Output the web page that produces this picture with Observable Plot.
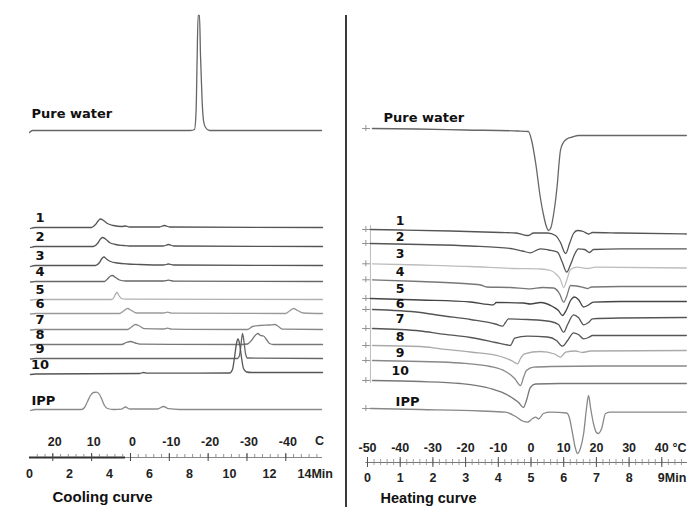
<!DOCTYPE html>
<html><head><meta charset="utf-8">
<script src="https://cdn.jsdelivr.net/npm/d3@7"></script>
<script src="https://cdn.jsdelivr.net/npm/@observablehq/plot@0.6"></script>
<style>
html,body{margin:0;padding:0;background:#fff;}
#wrap{position:relative;width:687px;height:507px;overflow:hidden;background:#fff;}
#left{position:absolute;left:0;top:0;}
#right{position:absolute;left:345px;top:0;}
#divider{position:absolute;left:345px;top:15px;width:2px;height:492px;background:#3a3a3a;}
</style></head><body><div id="wrap"><div id="left"></div><div id="right"></div><div id="divider"></div></div>
<script>
// ---------- DATA (time in min, signal in arbitrary units) ----------
const coolNames = ["Pure water","1","2","3","4","5","6","7","8","9","10","IPP"];
const coolWater = [[0,325],[0.15,327],[8.05,327],[8.25,328],[8.33,347],[8.38,397],[8.43,442],[8.5,442],[8.55,402],[8.63,357],[8.7,337],[8.8,330],[9.0,327],[14.6,327]];
const cool1 = [[0.05,229],[0.3,230],[3.1,230],[3.3,233],[3.45,237],[3.55,238.5],[3.7,237],[3.9,234],[4.2,232],[4.6,231],[4.8,231.5],[5.0,230.5],[6.5,230.5],[6.75,232],[7.0,230.5],[14.65,230]];
const cool2 = [[0.05,210],[0.3,211],[3.2,211],[3.4,214],[3.55,218.5],[3.65,220],[3.8,218.5],[4.0,215],[4.3,213],[4.7,212],[5.0,211.5],[6.7,211.5],[6.95,213],[7.2,211.5],[14.65,211]];
const cool3 = [[0.05,191],[0.3,192],[3.3,192],[3.5,195],[3.62,199],[3.72,200.5],[3.85,198.5],[4.05,196],[4.4,194.5],[4.9,193.5],[5.5,193],[6.7,192.5],[6.95,193.5],[7.2,192.5],[14.65,192]];
const cool4 = [[0.05,175.5],[0.3,176],[3.75,176],[3.9,178.5],[4.05,181.5],[4.15,182],[4.3,180],[4.5,177.5],[4.8,176.5],[6.7,176.5],[6.95,177.3],[7.2,176.3],[14.65,176]];
const cool5 = [[0.05,157.5],[0.3,158],[4.1,158],[4.22,160],[4.32,164],[4.38,165],[4.47,162],[4.6,159],[4.8,158.3],[14.65,158]];
const cool6 = [[0.05,143.5],[0.3,144],[4.5,144],[4.7,146.5],[4.9,149],[5.1,147],[5.35,144.5],[6.7,144.5],[6.9,145.3],[7.1,144.3],[12.8,144],[13.0,146.5],[13.2,149],[13.4,147],[13.7,144.5],[14.65,144]];
const cool7 = [[0.05,127.5],[0.3,128],[4.9,128],[5.1,130.5],[5.3,133],[5.5,131.5],[5.75,128.8],[6.7,128.5],[6.9,129.3],[7.1,128.3],[10.9,128],[11.15,131],[11.5,132],[12.0,132.5],[12.25,133],[12.45,131],[12.65,128.3],[14.65,128]];
const cool8 = [[0.05,112.5],[0.3,113],[4.6,113],[4.85,115],[5.05,116],[5.3,114.5],[5.6,113.3],[10.6,113],[10.9,113.5],[11.1,117],[11.3,122.5],[11.42,124],[11.55,122],[11.7,121.5],[11.85,118],[12.0,114],[12.2,113],[14.65,113]];
const cool9 = [[0.05,98.5],[0.3,99],[10.4,99],[10.5,102],[10.57,112],[10.65,124],[10.73,115],[10.8,104],[10.9,99.5],[14.65,99]];
const cool10 = [[0.05,83],[0.3,83.5],[5.5,84],[5.7,85],[5.9,84.3],[10.0,84.5],[10.15,88],[10.25,100],[10.35,114],[10.42,118.5],[10.5,114],[10.6,100],[10.7,89],[10.85,85.5],[11.1,85],[14.65,85]];
const coolIPP = [[0.05,47],[0.3,48],[2.6,48],[2.75,50],[2.9,56],[3.05,62],[3.2,65],[3.35,65.3],[3.5,63],[3.62,58],[3.75,52],[3.9,49],[4.2,48],[4.6,48.3],[4.8,50.5],[5.0,48.5],[6.4,48.5],[6.7,51],[6.95,48.8],[7.5,48],[14.6,48]];

const heatNames = ["Pure water","1","2","3","4","5","6","7","8","9","10","IPP"];
const heatWater = [[0.15,334],[1.5,333.5],[3,332.5],[4.6,331.5],[4.92,331],[5.02,322],[5.14,300],[5.29,264],[5.38,248],[5.47,236],[5.54,232],[5.61,235],[5.69,248],[5.75,262],[5.81,280],[5.86,300],[5.9,312],[5.99,320],[6.12,324],[6.27,325.5],[6.45,327],[9.75,327]];
const heat1 = [[0.09,233],[1.01,232.5],[2.54,231.5],[4.07,230],[4.53,229.5],[4.77,227.7],[4.92,227],[5.08,229.5],[5.5,229.5],[5.75,227],[5.9,220],[6.06,209],[6.18,219],[6.3,229],[6.42,232],[6.6,231],[6.76,228.5],[6.88,230],[7.74,229.5],[9.75,228.5]];
const heat2 = [[0.09,219],[1.62,218],[3.15,216.5],[4.37,214],[4.74,211.5],[4.98,209.7],[5.29,213.7],[5.54,212.5],[5.81,210.3],[5.96,200],[6.09,190.3],[6.21,198],[6.33,208],[6.45,213.7],[6.64,213],[6.79,210],[6.91,213],[7.74,213.7],[9.75,213.7]];
const heat3 = [[0.15,198.7],[1.62,197.5],[3.15,196],[4.43,194],[5.29,193.5],[5.6,192],[5.78,188],[5.9,183],[6.0,175],[6.09,182],[6.21,193],[6.42,195.3],[6.73,194],[6.97,195.3],[9.75,194.5]];
const heat4 = [[0.15,182.7],[1.62,181],[3.15,178.5],[3.46,177.5],[3.64,175.5],[4.37,175],[4.98,173.7],[5.35,175],[5.69,174.5],[5.87,169],[6.0,160.3],[6.09,166],[6.21,177],[6.39,176.5],[6.61,175],[6.73,174],[6.85,175.5],[7.74,176],[9.75,176]];
const heat5 = [[0.09,164],[1.62,162.5],[3.15,160.5],[3.85,157.7],[3.94,160],[4.77,159.5],[4.98,158.5],[5.29,160],[5.66,156],[5.84,152],[5.96,147],[6.09,153],[6.21,162],[6.33,165.5],[6.45,163],[6.61,155.5],[6.73,157],[6.91,160.3],[7.74,161],[9.75,161]];
const heat6 = [[0.15,153],[1.62,150],[2.23,147],[3.15,143],[3.91,138.5],[4.13,136.3],[4.22,140],[4.31,143.7],[4.89,143],[5.6,141],[5.84,138],[6.0,130.3],[6.12,138],[6.3,147.7],[6.45,145],[6.61,137.7],[6.76,140],[6.88,143.7],[7.74,144.5],[9.75,145]];
const heat7 = [[0.15,134],[1.62,131.5],[2.23,128.7],[3.15,125],[3.91,120],[4.28,117.5],[4.37,117],[4.5,124.3],[4.89,126.3],[5.5,125.5],[5.78,122],[5.96,116.3],[6.12,122],[6.3,129.7],[6.45,128],[6.61,123.7],[6.76,125],[6.88,127],[7.74,127],[9.75,127]];
const heat8 = [[0.15,117],[1.62,116],[2.23,113.7],[3.15,110.5],[4.07,106],[4.43,101.5],[4.59,98.7],[4.68,104],[4.8,108.7],[5.29,111],[5.72,108.5],[5.9,105.3],[6.06,110.3],[6.36,111.5],[6.57,110],[6.82,111.5],[9.75,112]];
const heat9 = [[0.15,102],[1.62,101],[2.84,99.5],[3.76,96],[4.22,91],[4.5,84],[4.68,77],[4.77,85],[4.86,92],[5.08,95.3],[5.6,96],[7.13,96.5],[9.75,96.5]];
const heat10 = [[0.15,82],[1.62,81],[2.84,79],[3.76,74],[4.31,67],[4.62,60],[4.77,55],[4.86,62],[4.98,75],[5.14,78.5],[5.9,79],[9.75,79]];
const heatIPP = [[0.09,54],[1.62,53],[3.46,51.5],[4.22,50.3],[4.53,46],[4.74,41.5],[4.89,40.3],[5.05,44],[5.14,45.3],[5.23,43.5],[5.38,49],[5.6,50.3],[6.09,49.5],[6.18,44],[6.27,29],[6.36,14],[6.42,9],[6.51,14],[6.61,29],[6.7,55],[6.76,67],[6.82,55],[6.91,39],[7.0,30],[7.06,29],[7.16,34],[7.28,49],[7.43,50.3],[9.75,50.3]];

// axis tick labels
const coolTimeTicks = [0,2,4,6,8,10,12,14];
const coolTempTicks = [20,10,0,-10,-20,-30,-40];
const heatTimeTicks = [0,1,2,3,4,5,6,7,8,9];
const heatTempTicks = [-50,-40,-30,-20,-10,0,10,20,30,40];
// temperature program read from the rulers
const coolT0 = 26, coolRate = 5.15;   // °C at 0 min, °C/min (cooling)
const heatT0 = -50, heatRate = 10;    // °C at 0 min, °C/min (heating)

// ---------- STYLE ----------
const coolTraces = [coolWater,cool1,cool2,cool3,cool4,cool5,cool6,cool7,cool8,cool9,cool10,coolIPP];
const heatTraces = [heatWater,heat1,heat2,heat3,heat4,heat5,heat6,heat7,heat8,heat9,heat10,heatIPP];
const coolStroke = ["#666","#555","#555","#555","#666","#b0b0b0","#999","#888","#777","#666","#555","#8a8a8a"];
const heatStroke = ["#666","#555","#555","#bdbdbd","#777","#444","#555","#555","#aaa","#888","#777","#888"];
const labelFont = "DejaVu Sans, Verdana, sans-serif";
const axisFont = "Liberation Sans, Arial, sans-serif";

const rows = (arr, name) => arr.map(([t, s]) => ({t, s, name}));
const lines = (traces, names, strokes) => traces.map((tr, i) =>
  Plot.line(rows(tr, names[i]), {x: "t", y: "s", stroke: strokes[i], strokeWidth: 1.3, curve: "monotone-x"}));

function rangeStep(a, b, step) { const out = []; for (let v = a; v <= b + 1e-9; v += step) out.push(+v.toFixed(6)); return out; }

// ---------- LEFT: cooling ----------
const coolTime = T => (coolT0 - T) / coolRate;
const coolEnd = 14.65;
const coolMajor = rangeStep(-50, 20, 10).map(coolTime).filter(t => t >= 0 && t <= coolEnd);
const coolMinor = rangeStep(-50, 24, 2).map(coolTime).filter(t => t >= 0 && t <= coolEnd);

const coolNum = coolNames.slice(1, 11).map((n, i) => ({n, t: 0.525, s: coolTraces[i + 1][1][1] + 9.5}));
const coolSide = [
  {n: coolNames[0], t: 0.1, s: coolTraces[0][1][1] + 17},
  {n: coolNames[11], t: 0.1, s: coolTraces[11][1][1] + 9}
];

const left = Plot.plot({
  width: 345, height: 507, margin: 0,
  x: {domain: [-29 / 20, (345 - 29) / 20], axis: null},
  y: {domain: [-50, 457], axis: null},
  marks: [
    ...lines(coolTraces, coolNames, coolStroke),
    Plot.text(coolNum, {x: "t", y: "s", text: "n", fontFamily: labelFont, fontWeight: "bold", fontSize: 13, fill: "#111"}),
    Plot.text(coolSide, {x: "t", y: "s", text: "n", textAnchor: "start", fontFamily: labelFont, fontWeight: "bold", fontSize: 13, fill: "#111"}),
    // ruler
    Plot.ruleY([0], {x1: () => 4.8, x2: () => coolEnd, stroke: "#888", strokeWidth: 1}),
    Plot.ruleY([0], {x1: () => 0, x2: () => 4.8, stroke: "#333", strokeWidth: 2}),
    Plot.ruleX(coolMinor, {x: d => d, y1: () => 0, y2: () => 3, stroke: "#777", strokeWidth: 0.8}),
    Plot.ruleX(coolMajor, {x: d => d, y1: () => -4, y2: () => 4, stroke: "#444", strokeWidth: 1}),
    Plot.text(coolTempTicks, {x: d => coolTime(d), y: () => 16, dx: 2, text: d => String(d), fontFamily: axisFont, fontWeight: "bold", fontSize: 12.5, fill: "#222"}),
    Plot.text(["C"], {x: () => 14.5, y: () => 17, text: d => d, fontFamily: axisFont, fontWeight: "bold", fontSize: 12.5, fill: "#222"}),
    Plot.text(coolTimeTicks.slice(0, -1), {x: d => d, y: () => -16, text: d => String(d), fontFamily: axisFont, fontWeight: "bold", fontSize: 12.5, fill: "#222"}),
    Plot.text(coolTimeTicks.slice(-1), {x: d => d, y: () => -16, dx: -12, textAnchor: "start", text: d => d + "Min", fontFamily: axisFont, fontWeight: "bold", fontSize: 12.5, fill: "#222"}),
    Plot.text(["Cooling curve"], {x: () => 1.15, y: () => -40, textAnchor: "start", text: d => d, fontFamily: axisFont, fontWeight: "bold", fontSize: 15, fill: "#111"})
  ]
});
document.getElementById("left").appendChild(left);

// ---------- RIGHT: heating ----------
const heatTime = T => (T - heatT0) / heatRate;
const heatEnd = 9.786;
const heatMajor = rangeStep(-50, 40, 10).map(heatTime);
const heatMinor = rangeStep(-50, 46, 2).map(heatTime).filter(t => t <= heatEnd);

const heatStart = heatTraces.map(tr => ({s: tr[0][1]}));
// numbered labels sit between a trace's start and the one above it
const heatNum = heatNames.slice(1, 11).map((n, i) => {
  const s0 = heatTraces[i + 1][0][1];
  const sAbove = heatTraces[i][0][1];
  return {n, t: 1.0, s: i === 0 ? s0 + 9 : (s0 + sAbove) / 2};
});
const heatSide = [
  {n: heatNames[0], t: 0.49, s: heatTraces[0][0][1] + 11},
  {n: heatNames[11], t: 0.86, s: heatTraces[11][0][1] + 7}
];

const right = Plot.plot({
  width: 342, height: 507, margin: 0,
  x: {domain: [(345 - 367) / 32.7, (687 - 367) / 32.7], axis: null},
  y: {domain: [-45, 462], axis: null},
  marks: [
    // start markers
    Plot.ruleX([0], {x: () => 0.09, y1: () => heatTraces[10][0][1] - 3, y2: () => heatTraces[1][0][1] + 4, stroke: "#aaa", strokeWidth: 0.8}),
    Plot.ruleY(heatStart, {y: "s", x1: () => -0.15, x2: () => 0.09, stroke: "#888", strokeWidth: 0.9}),
    Plot.ruleX(heatStart, {x: () => -0.05, y1: d => d.s - 3, y2: d => d.s + 3, stroke: "#888", strokeWidth: 0.9}),
    ...lines(heatTraces, heatNames, heatStroke),
    Plot.text(heatNum, {x: "t", y: "s", text: "n", fontFamily: labelFont, fontWeight: "bold", fontSize: 12.5, fill: "#111"}),
    Plot.text(heatSide, {x: "t", y: "s", text: "n", textAnchor: "start", fontFamily: labelFont, fontWeight: "bold", fontSize: 13, fill: "#111"}),
    // ruler
    Plot.ruleY([0], {x1: () => -0.05, x2: () => heatEnd, stroke: "#777", strokeWidth: 1}),
    Plot.ruleX(heatMinor, {x: d => d, y1: () => -3, y2: () => 3, stroke: "#888", strokeWidth: 0.8}),
    Plot.ruleX(heatMajor, {x: d => d, y1: () => -5, y2: () => 5, stroke: "#555", strokeWidth: 1}),
    Plot.text(heatTempTicks, {x: d => heatTime(d), y: () => 15, text: d => String(d), fontFamily: axisFont, fontWeight: "bold", fontSize: 12.5, fill: "#222"}),
    Plot.text(["°C"], {x: () => heatEnd, y: () => 15, dx: -1, textAnchor: "end", text: d => d, fontFamily: axisFont, fontWeight: "bold", fontSize: 12.5, fill: "#222"}),
    Plot.text(heatTimeTicks.slice(0, -1), {x: d => d, y: () => -15, text: d => String(d), fontFamily: axisFont, fontWeight: "bold", fontSize: 12.5, fill: "#222"}),
    Plot.text(heatTimeTicks.slice(-1), {x: d => d, y: () => -15, dx: -4, textAnchor: "start", text: d => d + "Min", fontFamily: axisFont, fontWeight: "bold", fontSize: 12.5, fill: "#222"}),
    Plot.text(["Heating curve"], {x: () => 0.4, y: () => -36, textAnchor: "start", text: d => d, fontFamily: axisFont, fontWeight: "bold", fontSize: 14.5, fill: "#111"})
  ]
});
document.getElementById("right").appendChild(right);
</script></body></html>
